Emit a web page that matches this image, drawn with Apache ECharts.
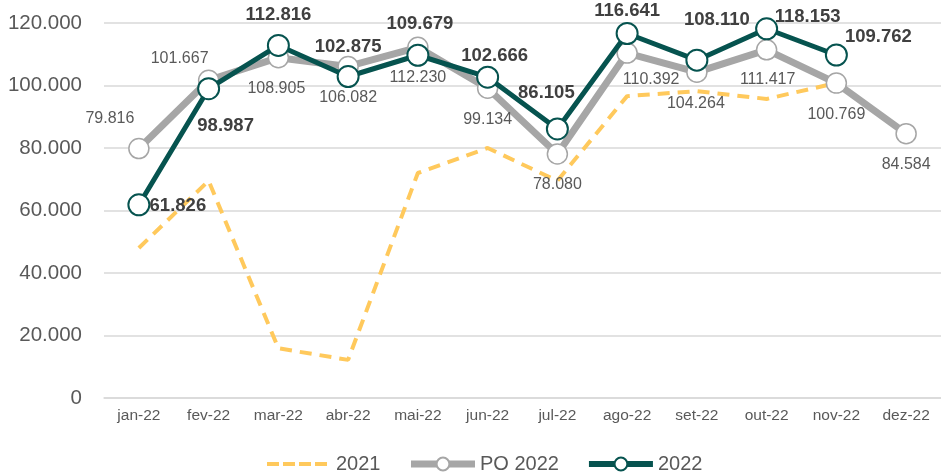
<!DOCTYPE html>
<html><head><meta charset="utf-8">
<script src="https://cdn.jsdelivr.net/npm/echarts@6/dist/echarts.min.js"></script>
<style>html,body{margin:0;padding:0;background:#fff}#c{width:941px;height:475px}</style>
</head><body><div id="c"></div>
<script>
const categories = ['jan-22','fev-22','mar-22','abr-22','mai-22','jun-22','jul-22','ago-22','set-22','out-22','nov-22','dez-22'];
const values2021 = [48000, 69500, 15900, 12200, 72000, 80000, 69500, 96600, 98200, 95700, 100800, 85000];
const valuesPO2022 = [79816, 101667, 108905, 106082, 112230, 99134, 78080, 110392, 104264, 111417, 100769, 84584];
const values2022 = [61826, 98987, 112816, 102875, 109679, 102666, 86105, 116641, 108110, 118153, 109762, null];
const yTicks = [0, 20000, 40000, 60000, 80000, 100000, 120000];

const poOffsets = [[-29,-30],[-29,-22],[-2,31],[0,31],[0,30],[0,31],[0,31],[24,27],[-1,31],[1,30],[0,31],[0,31]];
const y22Offsets = [[39,1],[17,37],[0,-31],[0,-30],[2,-31],[7,-21],[-11,-36],[0,-23],[20,-40],[41,-12],[42,-18],[0,0]];

function fmt(v){ return String(Math.round(v)).replace(/\B(?=(\d{3})+(?!\d))/g,'.'); }

const FONT = '"Liberation Sans", Arial, sans-serif';
const YEL = '#FFC95C', GRAY = '#A6A6A6', TEAL = '#06534F';
const chart = echarts.init(document.getElementById('c'), null, {renderer:'canvas'});
chart.setOption({
  animation:false,
  textStyle:{fontFamily:FONT},
  grid:{left:104, top:23, bottom:77, width:844, containLabel:false},
  legend:{
    top:449, left:260, itemWidth:64, itemHeight:16, itemGap:27,
    textStyle:{fontSize:20, color:'#595959', fontFamily:FONT, padding:[0,0,0,0]},
    data:[
      {name:'2021', itemStyle:{opacity:0}, lineStyle:{width:4, type:[12,4], color:YEL}},
      {name:'PO 2022', lineStyle:{width:7, color:GRAY}},
      {name:'2022', lineStyle:{width:6, color:TEAL}}
    ]
  },
  xAxis:{
    type:'category', data:categories, boundaryGap:true,
    axisLine:{show:true, lineStyle:{color:'#d9d9d9', width:1.5}},
    axisTick:{show:false},
    axisLabel:{fontSize:15.5, color:'#595959', margin:10, fontFamily:FONT}
  },
  yAxis:{
    type:'value', min:yTicks[0], max:yTicks[yTicks.length-1], interval:20000,
    axisLine:{show:false}, axisTick:{show:false},
    splitLine:{lineStyle:{color:'#d9d9d9', width:1.5}},
    axisLabel:{fontSize:20.5, color:'#595959', margin:22, fontFamily:FONT, formatter:v=>fmt(v)}
  },
  series:[
    {
      name:'2021', type:'line', data:values2021, symbol:'none', z:1,
      lineStyle:{color:YEL, width:4, type:[12,8]},
      itemStyle:{color:YEL}
    },
    {
      name:'PO 2022', type:'line', z:2, symbol:'circle', symbolSize:20,
      lineStyle:{color:GRAY, width:7},
      itemStyle:{color:'#ffffff', borderColor:GRAY, borderWidth:1.5},
      data:valuesPO2022.map((v,i)=>({value:v, label:{offset:poOffsets[i]}})),
      label:{show:true, position:'inside', fontSize:16, color:'#595959', fontFamily:FONT, formatter:p=>fmt(p.value)}
    },
    {
      name:'2022', type:'line', z:3, symbol:'circle', symbolSize:21,
      lineStyle:{color:TEAL, width:5},
      itemStyle:{color:'#ffffff', borderColor:TEAL, borderWidth:2},
      data:values2022.map((v,i)=>({value:v, label:{offset:y22Offsets[i]}})),
      label:{show:true, position:'inside', fontSize:18.5, fontWeight:'bold', color:'#404040', fontFamily:FONT, formatter:p=>fmt(p.value)}
    }
  ]
});
</script></body></html>
